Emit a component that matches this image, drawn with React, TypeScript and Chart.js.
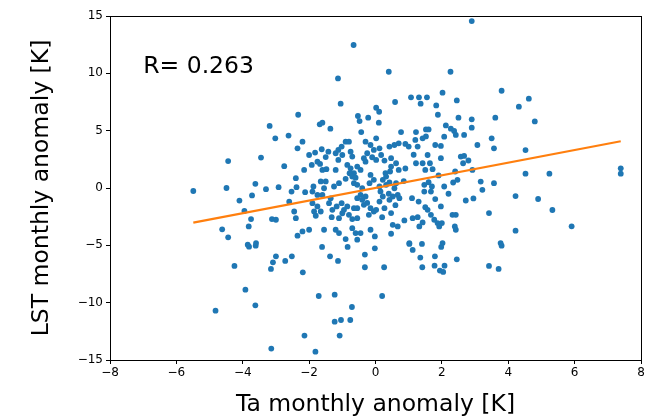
import { useEffect, useRef } from "react";
import { Chart, registerables } from "chart.js";

Chart.register(...registerables);

// Ta monthly anomaly [K] (x) and LST monthly anomaly [K] (y)
const taAnomaly: number[] = [
  -0.66, -1.13, -1.05, -2.33, -3.19, -1.68, -1.6, -1.36, -0.53, -0.48, -0.22, -0.43,
  2.9, 0.4, 2.26, 3.8, 2.02, 1.07, 1.31, 1.55, 1.36, 0.59, 1.83, 2.45, 1.88, 2.5, 2.9, 3.61, 2.9, 2.12, 2.27, 2.37, 1.52, 1.6, 0.1, 0.02, 0.11, 0.77, 1.22,
  4.62, 4.32, 4.8,
  -4.44, -5.49, -4.49, -4.1, -3.95, -4.62, -4.44,
  4.52, 4.52, 5.24, 7.39, 7.39, 4.22, 4.9, 5.33, 4.22, 5.91,
  -4.25, -4.82, -3.92,
  -3.81, -3.61, -3.0, -3.09, -3.15, -2.72, -2.52, -2.19, -1.61, -1.37, -1.13, -0.84, -0.32, -0.32, -0.02, -3.62, -1.71, -1.23, -0.71, -1.23, -1.04, -0.76, -2.14, -1.08, -3.14, -1.81,
  0.26, 0.2, 1.02, 1.12, 1.4, 1.98, 1.35, 1.79, 1.41, 1.78, 2.08, 1.94, 2.04, 2.45, 3.42, 3.71, 3.8,
  -3.02, -2.62, -2.2, -2.35, -0.3, -3.45, -2.0, -1.82, -1.62, -1.42, -1.75, -1.67, -1.2, -1.12, -1.02, -0.9, -0.8, -1.0, -1.12, -0.75, -0.7,
  -0.15, -0.25, -0.05, -0.3, -0.1, -1.92, -1.6, -1.48, -1.2, -2.15, -0.85, -0.75, -0.78, -0.65, -0.55, -0.45, -0.7, -0.15, -0.05, -0.18,
  -2.4, -1.87, -1.65, -1.5, -1.55, -1.25, -1.1, -3.62, -3.3, -2.92, -2.53, -2.38, -2.12, -1.9, -1.75, -1.6, -0.65, -0.55, -0.4, -0.45, -0.3, -0.55, -3.72,
  -1.9, -1.75, -1.65, -1.85, -1.4, -1.3, -1.17, -1.02, -0.95, -0.85, -0.8, -0.65, -0.55, -0.4, -0.35, -0.15, -0.2, -0.05,
  -2.45, -2.4, -3.12, -3.0, -3.75, -3.82, -1.8, -1.32, -1.1, -0.7, -0.55,
  -2.2, -2.0, -2.35, -1.55, -1.2, -1.1, -0.7, -0.6, -0.45, -0.15, -0.02, -0.9, -0.55, -3.6, -3.85,
  1.52, 2.07, 2.42, 2.67, 0.02, 0.12, 0.42, 0.57, 0.7, 0.9, 1.0, 1.2, 1.27, 1.42, 1.8, 1.97, 3.07, 3.5, 3.57,
  0.02, 0.17, 0.27, 0.47, 0.47, 0.62, 0.7, 0.44, 0.32, 0.22, 1.22, 1.42, 1.57, 1.64, 1.72, 1.5, 1.97, 2.57, 2.67, 2.64, 2.4,
  0.12, 0.32, 0.42, 0.57, 0.62, 0.67, 0.52, 0.42, 0.72, 0.22, 0.12, 1.47, 1.47, 1.7, 1.67, 2.07, 2.34, 2.47, 2.92, 3.17, 3.22, 3.57,
  1.1, 1.3, 1.8, 1.5, 1.57, 1.97, 2.72, 2.95, 3.42,
  0.02, 0.27, 0.2, 0.47, 0.52, 0.67, 0.87, 1.12, 1.27, 1.32, 1.42, 1.67, 1.77, 1.87, 1.92, 2.0, 2.32, 2.42, 2.39, 2.42,
  0.47, 1.02, 2.02, 3.77,
  -0.35, -0.6, 0.3, 0.85, 1.15, -1.35, -0.9, 0.6, 1.9, 2.2, -2.6, -2.75, -1.0, 0.15, 0.9, 1.6, 2.8, -0.25, 0.4, -1.5,
];

const lstAnomaly: number[] = [
  12.47, 9.56, 7.35, 6.39, 5.41, 5.55, 5.7, 5.17, 6.28, 5.84, 6.13, 4.88,
  14.56, 10.14, 10.14, 8.48, 8.31, 7.91, 7.91, 7.91, 7.35, 7.5, 7.2, 7.64, 6.39, 6.13, 5.99, 6.13, 5.26, 5.46, 5.17, 4.97, 5.11, 5.11, 5.7, 7.0, 6.65, 4.88, 4.88,
  7.79, 7.09, 5.81,
  2.35, -0.26, 0.0, -1.1, -2.0, -3.6, -4.3,
  3.31, 1.25, 1.25, 1.72, 1.25, -0.7, -0.96, -1.92, -3.72, -3.34,
  -6.8, -10.7, -8.87,
  -5.12, -5.03, -5.96, -6.48, -7.06, -6.36, -5.96, -7.35, -5.14, -5.96, -6.36, -5.14, -5.81, -6.91, -5.26, -10.23, -9.42, -9.3, -10.38, -11.66, -11.51, -11.51, -12.87, -12.87, -14.0, -14.27,
  -6.91, -9.42, -4.88, -5.4, -4.88, -5.14, -6.07, -5.96, -6.91, -6.77, -6.77, -7.2, -7.32, -6.22, -6.8, -7.06, -5.03,
  4.33, 4.57, 4.04, 3.46, 4.04, 2.65, 2.88, 3.09, 3.38, 3.17, 2.3, 2.1, 3.03, 3.32, 3.61, 4.04, 4.04, 2.88, 2.45, 3.17, 2.74,
  3.75, 3.03, 3.32, 2.3, 2.68, 2.01, 1.58, 1.64, 1.58, 1.58, 2.01, 1.72, 1.29, 1.29, 1.87, 1.58, 1.0, 1.14, 0.71, 0.42,
  0.86, 0.13, 0.57, 0.57, -0.02, 0.13, 0.42, 0.36, -0.1, 0.07, -0.31, 0.07, -0.36, -0.31, -0.6, -0.6, 0.42, 0.28, -0.02, -0.6, -0.74, -0.89, -0.65,
  -1.32, -1.61, -2.05, -2.05, -1.32, -1.9, -1.61, -1.32, -1.9, -1.61, -2.34, -1.76, -1.76, -1.03, -1.47, -1.76, -2.34, -2.05,
  -2.05, -2.63, -2.71, -2.77, -2.71, -3.35, -2.42, -2.54, -2.63, -2.71, -2.63,
  -3.79, -3.64, -4.16, -3.64, -3.64, -3.93, -3.5, -3.93, -3.93, -3.64, -4.22, -4.45, -4.51, -4.8, -4.95,
  4.5, 4.48, 4.63, 4.63, 4.33, 3.46, 3.61, 3.75, 3.9, 3.84, 3.61, 4.19, 3.61, 4.33, 3.75, 3.67, 3.75, 4.33, 3.46,
  2.45, 2.88, 2.39, 2.6, 1.87, 2.16, 1.58, 1.44, 1.0, 0.71, 2.16, 2.16, 2.88, 2.16, 1.64, 1.58, 2.6, 2.74, 2.8, 2.16, 1.44,
  0.13, 0.28, 0.48, -0.02, 0.42, -0.6, -0.74, -1.03, -0.89, -0.74, -1.18, 0.28, -0.31, 0.13, -0.31, 0.13, 0.48, 0.71, 1.58, 0.56, -0.16, 0.42,
  -0.89, -1.18, -0.97, -1.67, -1.9, -1.61, -1.09, -0.91, -2.19,
  -1.9, -1.76, -2.54, -2.19, -3.21, -3.35, -2.83, -2.63, -2.54, -3.35, -3.0, -2.34, -2.77, -3.06, -3.35, -3.06, -2.34, -2.34, -3.35, -3.64,
  -3.99, -4.8, -4.8, -4.8,
  2.6, 0.9, 1.3, 0.6, 2.9, -0.9, 0.8, -1.5, 1.1, -0.5, -1.2, 1.9, -2.2, -0.3, 1.7, 0.5, 2.4, -1.3, -0.5, 2.7,
];

// Least-squares fit line end points
const fitTa: number[] = [-5.49, 7.39];
const fitLst: number[] = [-3.02, 4.08];

const xTickValues: number[] = [-8, -6, -4, -2, 0, 2, 4, 6, 8];
const yTickValues: number[] = [-15, -10, -5, 0, 5, 10, 15];

const rText = "R= 0.263";
const rTextTa = -7;
const rTextLst = 10;

const xTitle = "Ta monthly anomaly [K]";
const yTitle = "LST monthly anomaly [K]";

const FONT = "'DejaVu Sans', sans-serif";
const minus = (v: number) => String(v).replace("-", "\u2212");

export default function App() {
  const ref = useRef<HTMLCanvasElement | null>(null);

  useEffect(() => {
    document.body.style.margin = "0";
    const canvas = ref.current;
    if (!canvas) return;

    const framePlugin = {
      id: "frameAndText",
      afterDraw(chart: any) {
        const { ctx, chartArea, scales } = chart;
        ctx.save();
        ctx.strokeStyle = "#000";
        ctx.lineWidth = 1;
        ctx.strokeRect(
          Math.round(chartArea.left) + 0.5,
          Math.round(chartArea.top) + 0.5,
          Math.round(chartArea.right - chartArea.left),
          Math.round(chartArea.bottom - chartArea.top)
        );
        ctx.fillStyle = "#000";
        ctx.font = `23.5px ${FONT}`;
        ctx.textBaseline = "alphabetic";
        ctx.textAlign = "left";
        ctx.fillText(rText, scales.x.getPixelForValue(rTextTa), scales.y.getPixelForValue(rTextLst));
        ctx.restore();
      },
    };

    const chart = new Chart(canvas, {
      type: "scatter",
      data: {
        datasets: [
          {
            type: "scatter",
            data: taAnomaly.map((t, i) => ({ x: t, y: lstAnomaly[i] })),
            backgroundColor: "#1f77b4",
            borderWidth: 0,
            pointRadius: 2.9,
            pointHoverRadius: 2.9,
            order: 2,
          },
          {
            type: "line",
            data: fitTa.map((t, i) => ({ x: t, y: fitLst[i] })),
            borderColor: "#ff7f0e",
            borderWidth: 2.2,
            pointRadius: 0,
            fill: false,
            order: 1,
          } as any,
        ],
      },
      options: {
        animation: false,
        responsive: false,
        devicePixelRatio: 1,
        events: [],
        layout: { padding: { left: 0, right: 8, top: 16, bottom: 0 } },
        plugins: { legend: { display: false }, tooltip: { enabled: false } },
        scales: {
          x: {
            type: "linear",
            min: -8,
            max: 8,
            afterBuildTicks: (axis: any) => {
              axis.ticks = xTickValues.map((v) => ({ value: v }));
            },
            afterFit: (axis: any) => {
              axis.height = 58;
            },
            ticks: {
              color: "#000",
              font: { family: FONT, size: 12 },
              padding: 2,
              maxRotation: 0,
              callback: (v: any) => minus(Number(v)),
            },
            grid: {
              drawOnChartArea: false,
              drawTicks: true,
              tickLength: 4,
              tickColor: "#000",
              tickWidth: 1,
            },
            border: { display: true, color: "#000", width: 1 },
            title: {
              display: true,
              text: xTitle,
              color: "#000",
              font: { family: FONT, size: 23.5, lineHeight: 1 },
              padding: { top: 0, bottom: 1 },
            },
          },
          y: {
            type: "linear",
            min: -15,
            max: 15,
            afterBuildTicks: (axis: any) => {
              axis.ticks = yTickValues.map((v) => ({ value: v }));
            },
            afterFit: (axis: any) => {
              axis.width = 110;
            },
            ticks: {
              color: "#000",
              font: { family: FONT, size: 12 },
              padding: 3,
              callback: (v: any) => minus(Number(v)),
            },
            grid: {
              drawOnChartArea: false,
              drawTicks: true,
              tickLength: 4,
              tickColor: "#000",
              tickWidth: 1,
            },
            border: { display: true, color: "#000", width: 1 },
            title: {
              display: true,
              text: yTitle,
              color: "#000",
              font: { family: FONT, size: 23.5, lineHeight: 1 },
              padding: { top: 30, bottom: 0 },
            },
          },
        },
      },
      plugins: [framePlugin],
    } as any);

    return () => chart.destroy();
  }, []);

  return <canvas ref={ref} width={649} height={418} style={{ display: "block", width: 649, height: 418 }} />;
}
